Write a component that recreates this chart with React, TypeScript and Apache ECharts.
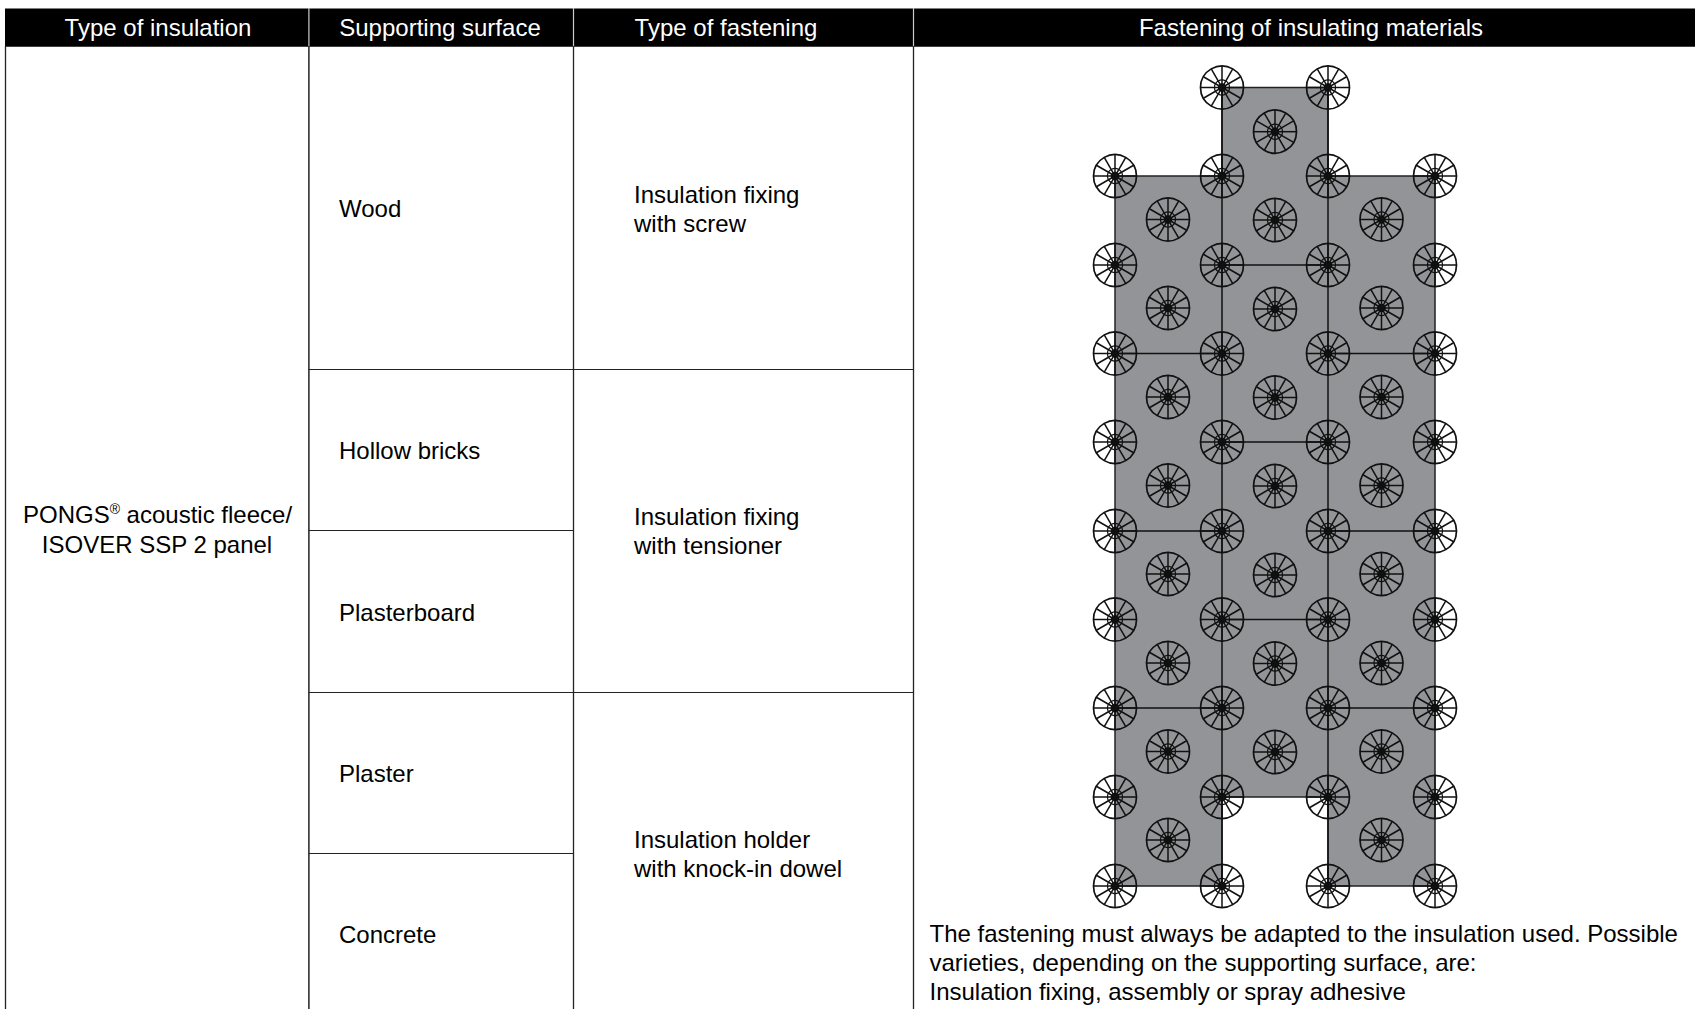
import React, { useEffect, useRef } from "react";
import * as echarts from "echarts";

const W = 1695;
const H = 1009;
const FONT = '"Liberation Sans", Arial, sans-serif';

const headers = ["Type of insulation", "Supporting surface", "Type of fastening", "Fastening of insulating materials"];
const surfaces = ["Wood", "Hollow bricks", "Plasterboard", "Plaster", "Concrete"];
const fastenings = [["Insulation fixing", "with screw"], ["Insulation fixing", "with tensioner"], ["Insulation holder", "with knock-in dowel"]];
const note = [
  "The fastening must always be adapted to the insulation used. Possible",
  "varieties, depending on the supporting surface, are:",
  "Insulation fixing, assembly or spray adhesive",
];

// fastener grid, columns and rows of the panel drawing
const colX = [1115, 1222, 1328, 1435];
const midX = [1168, 1275, 1381.5];
const rowY = [87.5, 176, 265, 353.5, 442, 531, 619.5, 708, 797, 886];
const midYSide = [219.5, 308, 397, 485.5, 574, 663, 751.5, 840];
const midYCentre = [131.7, 220, 309, 397.5, 486, 575, 663.5, 752];

const outline: number[][] = [
  [colX[1], rowY[0]], [colX[2], rowY[0]], [colX[2], rowY[1]], [colX[3], rowY[1]],
  [colX[3], rowY[9]], [colX[2], rowY[9]], [colX[2], rowY[8]], [colX[1], rowY[8]],
  [colX[1], rowY[9]], [colX[0], rowY[9]], [colX[0], rowY[1]], [colX[1], rowY[1]],
];
const seams: number[][][] = [
  [[colX[1], rowY[0]], [colX[1], rowY[9]]],
  [[colX[2], rowY[0]], [colX[2], rowY[9]]],
  [[colX[1], rowY[2]], [colX[2], rowY[2]]],
  [[colX[0], rowY[3]], [colX[1], rowY[3]]],
  [[colX[2], rowY[3]], [colX[3], rowY[3]]],
  [[colX[1], rowY[4]], [colX[2], rowY[4]]],
  [[colX[0], rowY[5]], [colX[1], rowY[5]]],
  [[colX[2], rowY[5]], [colX[3], rowY[5]]],
  [[colX[1], rowY[6]], [colX[2], rowY[6]]],
  [[colX[0], rowY[7]], [colX[1], rowY[7]]],
  [[colX[2], rowY[7]], [colX[3], rowY[7]]],
];

const fasteners: number[][] = [];
rowY.forEach((y, i) => {
  colX.forEach((x, j) => {
    if (i === 0 && (j === 0 || j === 3)) return;
    fasteners.push([x, y]);
  });
});
midYSide.forEach((y) => { fasteners.push([midX[0], y]); fasteners.push([midX[2], y]); });
midYCentre.forEach((y) => fasteners.push([midX[1], y]));

function fastenerShape(api: any) {
  const c = api.coord([api.value(0), api.value(1)]);
  const R = 21.5;
  const children: any[] = [
    { type: "circle", shape: { cx: c[0], cy: c[1], r: R }, style: { stroke: "#111", fill: "none", lineWidth: 1.7 } },
    { type: "circle", shape: { cx: c[0], cy: c[1], r: 7.5 }, style: { stroke: "#111", fill: "none", lineWidth: 1.2 } },
    { type: "circle", shape: { cx: c[0], cy: c[1], r: 3.8 }, style: { fill: "#000", stroke: "#000", lineWidth: 1 } },
  ];
  for (let k = 0; k < 12; k++) {
    const a = (k * Math.PI) / 6;
    children.push({
      type: "line",
      shape: { x1: c[0], y1: c[1], x2: c[0] + R * Math.cos(a), y2: c[1] + R * Math.sin(a) },
      style: { stroke: "#111", lineWidth: 1.5 },
    });
  }
  return { type: "group", children };
}

const txt = (x: number, y: number, text: string, align = "left", fill = "#000") => ({
  type: "text",
  x,
  y,
  silent: true,
  z: 10,
  style: { text, x: 0, y: 0, fill, font: `24px ${FONT}`, textAlign: align, textVerticalAlign: "middle" },
});
const rule = (x1: number, y1: number, x2: number, y2: number, stroke = "#222", lineWidth = 1) => ({
  type: "line",
  shape: { x1, y1, x2, y2 },
  style: { stroke, lineWidth },
  z: 5,
});

export default function App() {
  const ref = useRef<HTMLDivElement>(null);
  useEffect(() => {
    const chart = echarts.init(ref.current!, undefined, { renderer: "svg" });
    const graphic: any[] = [
      { type: "rect", shape: { x: 5, y: 8.4, width: W - 5, height: 38.3 }, style: { fill: "#000" }, z: 4 },
      rule(308.9, 8, 308.9, 46.5, "#ccc", 1.2),
      rule(573.5, 8, 573.5, 46.5, "#ccc", 1.2),
      rule(913.5, 8, 913.5, 46.5, "#ccc", 1.2),
      rule(5.5, 46, 5.5, H, "#222", 1.3),
      rule(308.9, 46, 308.9, H, "#222", 1.5),
      rule(573.5, 46, 573.5, H, "#222", 1.3),
      rule(913.5, 46, 913.5, H, "#222", 1.3),
      rule(308.5, 369.5, 913.5, 369.5),
      rule(308.5, 530.5, 573.5, 530.5),
      rule(308.5, 692.5, 913.5, 692.5),
      rule(308.5, 853.5, 573.5, 853.5),
      txt(158, 27, headers[0], "center", "#fff"),
      txt(440, 27, headers[1], "center", "#fff"),
      txt(726, 27, headers[2], "center", "#fff"),
      txt(1311, 27, headers[3], "center", "#fff"),
      {
        type: "text", x: 157.5, y: 514, z: 10, silent: true,
        style: {
          text: "PONGS{sup|®} acoustic fleece/",
          fill: "#000", font: `24px ${FONT}`, textAlign: "center", textVerticalAlign: "middle",
          rich: { sup: { fontSize: 14, fontFamily: FONT, verticalAlign: "top", lineHeight: 24, fill: "#000" } },
        },
      },
      txt(157, 544, "ISOVER SSP 2 panel", "center"),
      txt(339, 208.5, surfaces[0]),
      txt(339, 450, surfaces[1]),
      txt(339, 612.5, surfaces[2]),
      txt(339, 773.5, surfaces[3]),
      txt(339, 934.5, surfaces[4]),
      txt(634, 194.5, fastenings[0][0]),
      txt(634, 223, fastenings[0][1]),
      txt(634, 516, fastenings[1][0]),
      txt(634, 545, fastenings[1][1]),
      txt(634, 839, fastenings[2][0]),
      txt(634, 868, fastenings[2][1]),
      txt(929.5, 933.5, note[0]),
      txt(929.5, 962, note[1]),
      txt(929.5, 991, note[2]),
    ];
    chart.setOption({
      animation: false,
      backgroundColor: "#fff",
      grid: { left: 0, top: 0, width: W, height: H },
      xAxis: { type: "value", min: 0, max: W, show: false },
      yAxis: { type: "value", min: 0, max: H, inverse: true, show: false },
      graphic,
      series: [
        {
          type: "custom",
          z: 2,
          silent: true,
          data: [outline[0]],
          renderItem: (_p: any, api: any) => ({
            type: "polygon",
            shape: { points: outline.map((p) => api.coord(p)) },
            style: { fill: "#929497", stroke: "#222", lineWidth: 1.5 },
          }),
        },
        {
          type: "custom",
          z: 3,
          silent: true,
          data: seams.map((s) => [s[0][0], s[0][1], s[1][0], s[1][1]]),
          renderItem: (_p: any, api: any) => {
            const a = api.coord([api.value(0), api.value(1)]);
            const b = api.coord([api.value(2), api.value(3)]);
            return { type: "line", shape: { x1: a[0], y1: a[1], x2: b[0], y2: b[1] }, style: { stroke: "#111", lineWidth: 1.5 } };
          },
        },
        {
          type: "custom",
          z: 4,
          silent: true,
          data: fasteners,
          encode: { x: 0, y: 1 },
          renderItem: (_p: any, api: any) => fastenerShape(api),
        },
      ],
    });
    return () => chart.dispose();
  }, []);
  return <div ref={ref} style={{ position: "absolute", left: 0, top: 0, width: W, height: H }} />;
}
